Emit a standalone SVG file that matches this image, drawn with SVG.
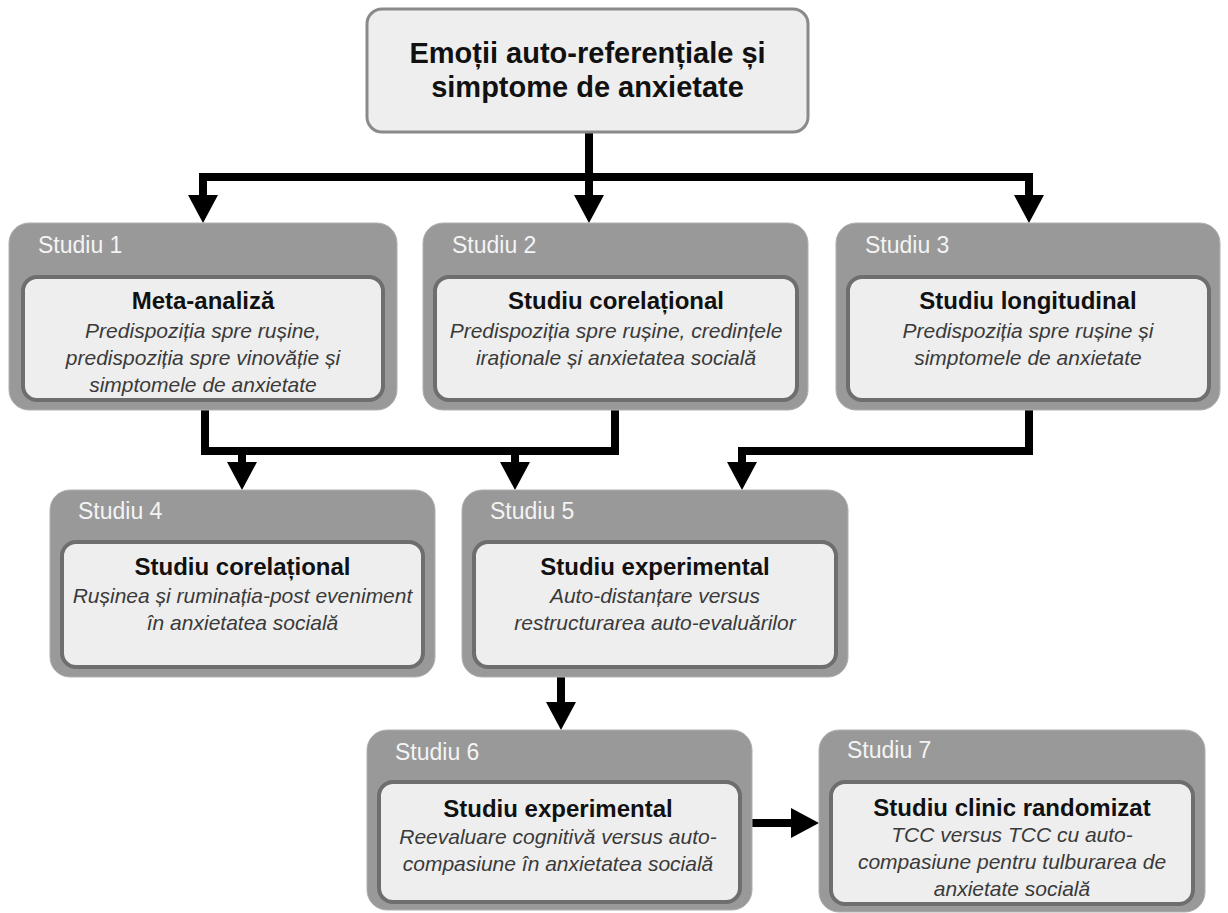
<svg xmlns="http://www.w3.org/2000/svg" width="1228" height="913" viewBox="0 0 1228 913">
<style>
text{font-family:"Liberation Sans",Arial,sans-serif}
.outer{fill:#999999;stroke:#b0b0b0;stroke-width:1}
.inner{fill:#eeeeee;stroke:#6e6e6e;stroke-width:4}
.lbl{font-size:23px;fill:#f4f4f4}
.ttl{font-size:24px;font-weight:bold;fill:#111;text-anchor:middle}
.it{font-size:21px;font-style:italic;fill:#3a3a3a;text-anchor:middle}
.con{fill:none;stroke:#000;stroke-width:8;stroke-linejoin:miter}
</style>
<defs>
<marker id="ah" markerUnits="userSpaceOnUse" viewBox="0 0 28 30" markerWidth="28" markerHeight="30" refX="0" refY="15" orient="auto">
<path d="M0,0 L28,15 L0,30 Z" fill="#000"/>
</marker>
</defs>

<g id="connectors">
<path class="con" d="M589,132 V195" marker-end="url(#ah)"/>
<path class="con" d="M589,177 H203 V195" marker-end="url(#ah)"/>
<path class="con" d="M589,177 H1029 V195" marker-end="url(#ah)"/>
<path class="con" d="M205,410 V451 H615 V410"/>
<path class="con" d="M242,451 V462" marker-end="url(#ah)"/>
<path class="con" d="M515,451 V462" marker-end="url(#ah)"/>
<path class="con" d="M1029,410 V451 H742 V462" marker-end="url(#ah)"/>
<path class="con" d="M561,677 V702" marker-end="url(#ah)"/>
<path class="con" d="M752,823 H791" marker-end="url(#ah)"/>
</g>

<g id="root">
<rect x="367" y="9" width="441" height="123" rx="15" fill="#eeeeee" stroke="#8a8a8a" stroke-width="3"/>
<text x="587.5" y="63" font-size="29" font-weight="bold" fill="#111" text-anchor="middle">Emoții auto-referențiale și</text>
<text x="587.5" y="97" font-size="29" font-weight="bold" fill="#111" text-anchor="middle">simptome de anxietate</text>
</g>

<g id="studiu1">
<rect class="outer" x="9" y="223" width="388" height="187" rx="20"/>
<text class="lbl" x="38" y="253">Studiu 1</text>
<rect class="inner" x="23" y="277" width="360" height="123" rx="14"/>
<text class="ttl" x="203" y="309">Meta-analiză</text>
<text class="it" x="203" y="338">Predispoziția spre rușine,</text>
<text class="it" x="203" y="365">predispoziția spre vinovăție și</text>
<text class="it" x="203" y="392">simptomele de anxietate</text>
</g>

<g id="studiu2">
<rect class="outer" x="423" y="223" width="385" height="187" rx="20"/>
<text class="lbl" x="452" y="253">Studiu 2</text>
<rect class="inner" x="435" y="277" width="362" height="123" rx="14"/>
<text class="ttl" x="616" y="309">Studiu corelațional</text>
<text class="it" x="616" y="338">Predispoziția spre rușine, credințele</text>
<text class="it" x="616" y="365">iraționale și anxietatea socială</text>
</g>

<g id="studiu3">
<rect class="outer" x="836" y="223" width="384" height="187" rx="20"/>
<text class="lbl" x="865" y="253">Studiu 3</text>
<rect class="inner" x="848" y="277" width="361" height="123" rx="14"/>
<text class="ttl" x="1028" y="309">Studiu longitudinal</text>
<text class="it" x="1028" y="338">Predispoziția spre rușine și</text>
<text class="it" x="1028" y="365">simptomele de anxietate</text>
</g>

<g id="studiu4">
<rect class="outer" x="50" y="490" width="385" height="187" rx="20"/>
<text class="lbl" x="78" y="519">Studiu 4</text>
<rect class="inner" x="62" y="542" width="361" height="125" rx="14"/>
<text class="ttl" x="242.5" y="575">Studiu corelațional</text>
<text class="it" x="242.5" y="603">Rușinea și ruminația-post eveniment</text>
<text class="it" x="242.5" y="630">în anxietatea socială</text>
</g>

<g id="studiu5">
<rect class="outer" x="462" y="490" width="386" height="187" rx="20"/>
<text class="lbl" x="490" y="519">Studiu 5</text>
<rect class="inner" x="474" y="542" width="362" height="125" rx="14"/>
<text class="ttl" x="655" y="575">Studiu experimental</text>
<text class="it" x="655" y="603">Auto-distanțare versus</text>
<text class="it" x="655" y="630">restructurarea auto-evaluărilor</text>
</g>

<g id="studiu6">
<rect class="outer" x="367" y="730" width="385" height="180" rx="20"/>
<text class="lbl" x="395" y="760">Studiu 6</text>
<rect class="inner" x="379" y="782" width="361" height="120" rx="14"/>
<text class="ttl" x="558" y="817">Studiu experimental</text>
<text class="it" x="558" y="844">Reevaluare cognitivă versus auto-</text>
<text class="it" x="558" y="871">compasiune în anxietatea socială</text>
</g>

<g id="studiu7">
<rect class="outer" x="819" y="730" width="386" height="182" rx="20"/>
<text class="lbl" x="847" y="758">Studiu 7</text>
<rect class="inner" x="831" y="782" width="362" height="122" rx="14"/>
<text class="ttl" x="1012" y="816">Studiu clinic randomizat</text>
<text class="it" x="1012" y="842">TCC versus TCC cu auto-</text>
<text class="it" x="1012" y="869">compasiune pentru tulburarea de</text>
<text class="it" x="1012" y="896">anxietate socială</text>
</g>
</svg>
